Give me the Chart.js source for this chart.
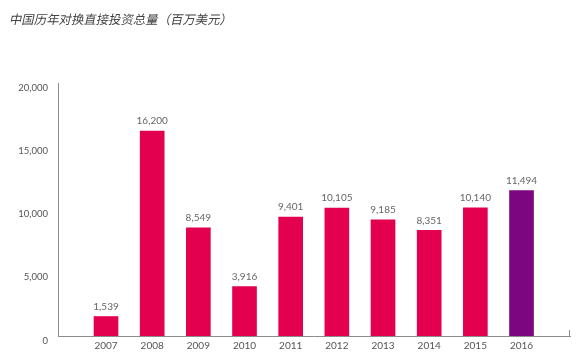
<!DOCTYPE html>
<html>
<head>
<meta charset="utf-8">
<script src="https://cdn.jsdelivr.net/npm/chart.js@4"></script>
<style>
    html, body { margin: 0; padding: 0; background: #fff; }
    #wrap { width: 582px; height: 358px; }
</style>
</head>
<body>
<div id="wrap"><canvas id="odiChart"></canvas></div>
<script>
// Data
const years = [2007, 2008, 2009, 2010, 2011, 2012, 2013, 2014, 2015, 2016];
const odiValues = [1539, 16200, 8549, 3916, 9401, 10105, 9185, 8351, 10140, 11494];
const yTicks = [0, 5000, 10000, 15000, 20000];
const titleText = '中国历年对换直接投资总量（百万美元）';

const pink = '#e2004f';
const purple = '#7b067f';
const axisColor = '#8c8c8c';
const labelColor = '#555';
const titleFont = '12.4px "Noto Sans CJK SC"';

const fmt = v => v.toLocaleString('en-US');

// Value labels above bars, slanted title and small end tick on x axis
const extras = {
    id: 'extras',
    afterDatasetsDraw(chart) {
        const ctx = chart.ctx;
        const meta = chart.getDatasetMeta(0);
        ctx.save();
        ctx.font = '10px Lato';
        ctx.fillStyle = '#666';
        ctx.textAlign = 'center';
        ctx.textBaseline = 'middle';
        meta.data.forEach((bar, i) => {
            ctx.fillText(fmt(odiValues[i]), bar.x, bar.y - 10);
        });
        const area = chart.chartArea;
        ctx.strokeStyle = axisColor;
        ctx.lineWidth = 1;
        ctx.beginPath();
        ctx.moveTo(area.right - 0.5, area.bottom);
        ctx.lineTo(area.right - 0.5, area.bottom - 6);
        ctx.stroke();
        ctx.restore();

        // title, drawn with a skew because the CJK font has no italic
        const tb = chart.titleBlock;
        const ty = tb.top + 12 + 7.2;
        ctx.save();
        ctx.font = titleFont;
        ctx.fillStyle = '#444';
        ctx.textAlign = 'left';
        ctx.textBaseline = 'middle';
        ctx.translate(tb.left, ty);
        ctx.transform(1, 0, -0.22, 1, 0, 0);
        ctx.fillText(titleText, 0, 0);
        ctx.restore();
    }
};

const ctx = document.getElementById('odiChart').getContext('2d');
new Chart(ctx, {
    type: 'bar',
    data: {
        datasets: [{
            data: years.map((y, i) => ({ x: y, y: odiValues[i] })),
            backgroundColor: years.map(y => y === 2016 ? purple : pink),
            barThickness: 24
        }]
    },
    options: {
        responsive: true,
        maintainAspectRatio: false,
        animation: false,
        layout: {
            padding: { left: 10, right: 12, top: 0, bottom: 0 }
        },
        plugins: {
            legend: { display: false },
            tooltip: { enabled: false },
            title: {
                display: true,
                text: titleText,
                align: 'start',
                color: 'rgba(0,0,0,0)',
                font: { family: '"Noto Sans CJK SC"', size: 12, weight: 'normal' },
                padding: { top: 12, bottom: 56.6 }
            }
        },
        scales: {
            x: {
                type: 'linear',
                offset: false,
                min: 2005.96,
                max: 2017.05,
                afterBuildTicks: scale => {
                    scale.ticks = years.map(v => ({ value: v }));
                },
                afterFit: scale => { scale.height = 22; },
                grid: { display: false, drawTicks: false, offset: false },
                border: { display: true, color: axisColor, width: 1 },
                ticks: {
                    color: labelColor,
                    font: { family: 'Lato', size: 10 },
                    padding: 4,
                    autoSkip: false,
                    maxRotation: 0,
                    callback: v => String(v)
                }
            },
            y: {
                min: 0,
                max: 20000,
                afterBuildTicks: scale => {
                    scale.ticks = yTicks.map(v => ({ value: v }));
                },
                afterFit: scale => { scale.width = 48; },
                grid: { display: false, drawTicks: false },
                border: { display: true, color: axisColor, width: 1 },
                ticks: {
                    color: labelColor,
                    font: { family: 'Lato', size: 9.5 },
                    padding: 10,
                    labelOffset: 4.5,
                    callback: v => fmt(v)
                }
            }
        }
    },
    plugins: [extras]
});
</script>
</body>
</html>
